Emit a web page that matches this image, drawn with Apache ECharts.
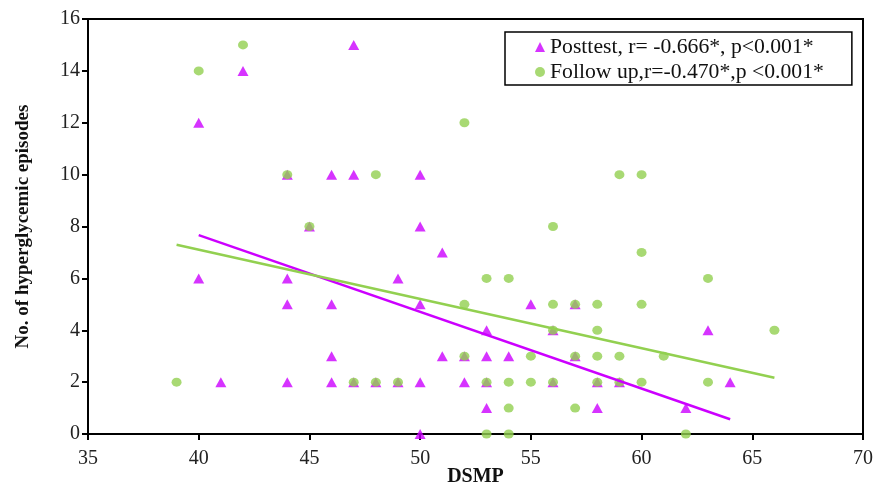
<!DOCTYPE html>
<html>
<head>
<meta charset="utf-8">
<script src="https://cdn.jsdelivr.net/npm/echarts@6/dist/echarts.min.js"></script>
<style>
  html, body { margin: 0; padding: 0; background: #fff; }
  #container { width: 873px; height: 484px; }
</style>
</head>
<body>
<div id="container"></div>
<script>
// DSMP score vs number of hyperglycemic episodes
var posttestPts = [
    [40,12],[40,6],[41,2],[42,14],[44,10],[44,6],[44,5],[44,2],[45,8],
    [46,10],[46,5],[46,3],[46,2],[47,15],[47,10],[47,2],[48,2],[49,6],[49,2],
    [50,10],[50,8],[50,5],[50,2],[50,0],[51,7],[51,3],[52,3],[52,2],
    [53,4],[53,3],[53,2],[53,1],[54,3],[55,5],[56,4],[56,2],[57,5],[57,3],
    [58,2],[58,1],[59,2],[62,1],[63,4],[64,2]
];
var followPts = [
    [39,2],[40,14],[42,15],[44,10],[45,8],[47,2],[48,10],[48,2],[49,2],
    [52,12],[52,5],[52,3],[53,6],[53,2],[53,0],[54,6],[54,2],[54,1],[54,0],
    [55,3],[55,2],[56,8],[56,5],[56,4],[56,2],[57,5],[57,3],[57,1],
    [58,5],[58,4],[58,3],[58,2],[59,10],[59,3],[59,2],[60,10],[60,7],[60,5],[60,2],
    [61,3],[62,0],[63,6],[63,2],[66,4]
];
// linear trend lines (end points)
var posttestTrend = [[40,7.67],[64,0.57]];
var followTrend = [[39,7.3],[66,2.17]];

var nameA = 'Posttest, r= -0.666*, p<0.001*';
var nameB = 'Follow up,r=-0.470*,p <0.001*';
var magenta = '#cc00ff';
var green = '#92d050';
var serif = 'Liberation Serif';

var dom = document.getElementById('container');
var myChart = echarts.init(dom);

var option = {
    animation: false,
    textStyle: { fontFamily: serif },
    grid: {
        left: 88, right: 10, top: 19, bottom: 50,
        outerBoundsMode: 'none',
        containLabel: false,
        show: true, borderColor: '#000', borderWidth: 2,
        backgroundColor: 'transparent'
    },
    legend: {
        data: [nameA, nameB],
        orient: 'vertical',
        left: 505, top: 32,
        padding: [4, 28, 2, 30],
        itemGap: 3,
        itemWidth: 10, itemHeight: 10,
        borderColor: '#000', borderWidth: 1.5,
        backgroundColor: '#fff',
        textStyle: { fontFamily: serif, fontSize: 21.7, color: '#111', lineHeight: 22 }
    },
    xAxis: {
        type: 'value',
        min: 35, max: 70, interval: 5,
        name: 'DSMP',
        nameLocation: 'middle',
        nameGap: 33,
        nameMoveOverlap: false,
        nameTextStyle: { fontFamily: serif, fontSize: 20, fontWeight: 'bold', color: '#111', lineHeight: 20 },
        splitLine: { show: false },
        axisLine: { onZero: false, lineStyle: { color: '#000', width: 2 } },
        axisTick: { length: 6, lineStyle: { color: '#000', width: 2 } },
        axisLabel: { fontFamily: serif, fontSize: 20, color: '#222', margin: 15 }
    },
    yAxis: {
        type: 'value',
        min: 0, max: 16, interval: 2,
        name: 'No. of hyperglycemic episodes',
        nameLocation: 'middle',
        nameGap: 55,
        nameMoveOverlap: false,
        nameTextStyle: { fontFamily: serif, fontSize: 19, fontWeight: 'bold', color: '#111' },
        splitLine: { show: false },
        axisLine: { show: true, lineStyle: { color: '#000', width: 2 } },
        axisTick: { show: true, length: 6, lineStyle: { color: '#000', width: 2 } },
        axisLabel: { fontFamily: serif, fontSize: 20, color: '#222', margin: 8 }
    },
    series: [
        {
            name: nameA,
            type: 'scatter',
            symbol: 'triangle',
            symbolSize: [11, 10],
            itemStyle: { color: magenta },
            data: posttestPts
        },
        {
            name: nameB,
            type: 'scatter',
            symbol: 'circle',
            symbolSize: [10, 9],
            itemStyle: { color: green },
            data: followPts
        },
        {
            name: 'trendA',
            type: 'line',
            symbol: 'none',
            lineStyle: { color: magenta, width: 2.5 },
            data: posttestTrend
        },
        {
            name: 'trendB',
            type: 'line',
            symbol: 'none',
            lineStyle: { color: green, width: 2.5 },
            data: followTrend
        }
    ]
};

myChart.setOption(option);
</script>
</body>
</html>
